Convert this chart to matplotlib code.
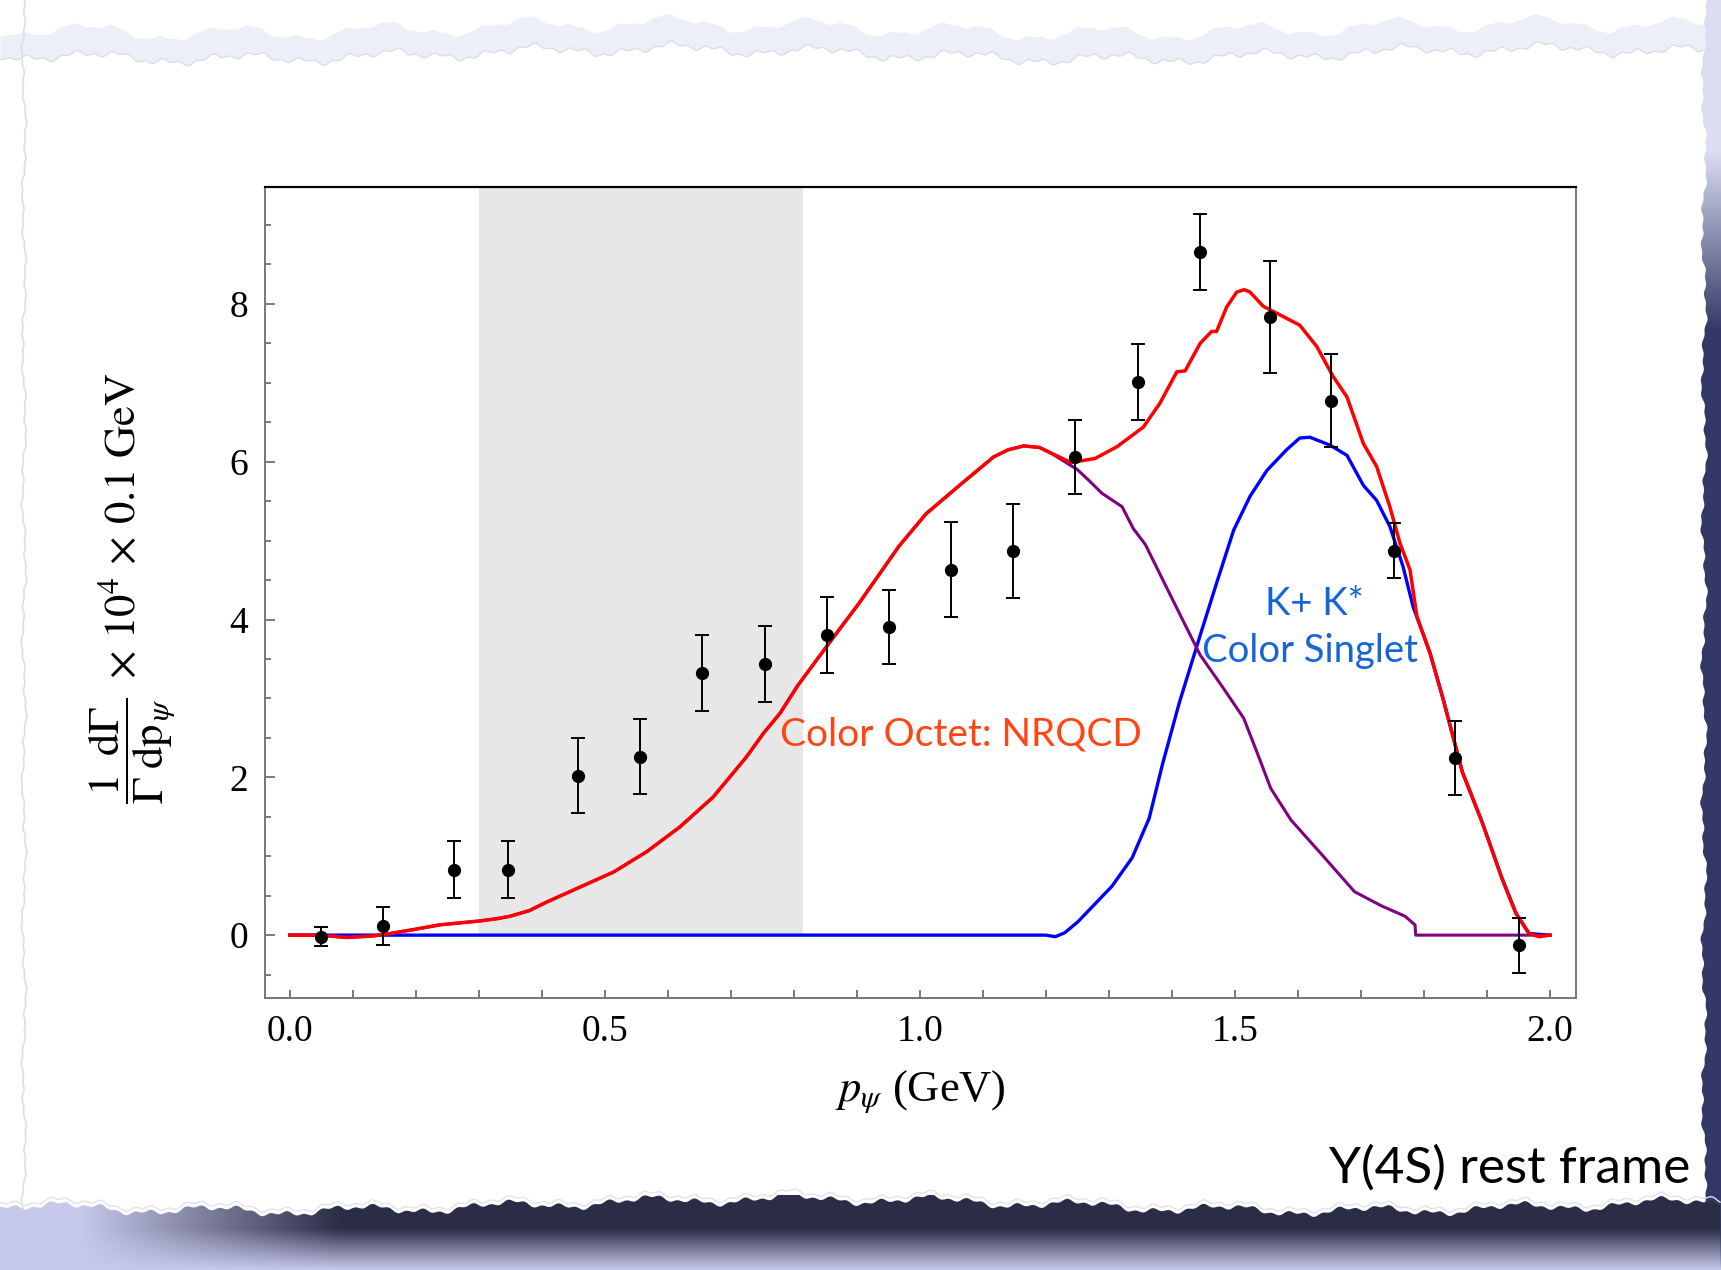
import numpy as np
import matplotlib.pyplot as plt
from matplotlib.ticker import MultipleLocator, FormatStrFormatter
from matplotlib.patches import Polygon

plt.rcParams['mathtext.fontset'] = 'stix'
plt.rcParams['font.family'] = ['Liberation Serif', 'DejaVu Serif']

# ---- data ----------------------------------------------------------------
p_data = [0.049, 0.148, 0.26, 0.347, 0.458, 0.556, 0.655, 0.754, 0.852, 0.951,
          1.049, 1.148, 1.247, 1.347, 1.444, 1.556, 1.653, 1.753, 1.85, 1.951]
rate_data = [-0.02, 0.12, 0.83, 0.83, 2.02, 2.26, 3.32, 3.44, 3.80, 3.91,
             4.63, 4.87, 6.06, 7.01, 8.66, 7.83, 6.77, 4.87, 2.25, -0.13]
rate_err = [0.12, 0.24, 0.36, 0.36, 0.475, 0.475, 0.48, 0.48, 0.48, 0.47,
            0.60, 0.60, 0.47, 0.48, 0.48, 0.71, 0.59, 0.35, 0.47, 0.35]

# total (octet + singlet), red
p_total = [0.0, 0.048, 0.09, 0.133, 0.159, 0.196, 0.238, 0.302, 0.33, 0.35, 0.38, 0.408,
           0.461, 0.514, 0.567, 0.619, 0.672, 0.725, 0.752, 0.778, 0.806, 0.855, 0.903,
           0.967, 1.010, 1.063, 1.117, 1.14, 1.165, 1.19, 1.208, 1.240, 1.278, 1.313, 1.355,
           1.381, 1.408, 1.421, 1.445, 1.463, 1.471, 1.487, 1.503, 1.515, 1.524,
           1.545, 1.567, 1.603, 1.630, 1.656, 1.678, 1.704, 1.725, 1.746, 1.762,
           1.778, 1.789, 1.810, 1.831, 1.861, 1.893, 1.924, 1.946, 1.967, 1.983, 2.0]
rate_total = [0.0, 0.0, -0.03, -0.01, 0.02, 0.07, 0.13, 0.18, 0.21, 0.24, 0.31, 0.42,
              0.61, 0.80, 1.06, 1.37, 1.75, 2.26, 2.56, 2.81, 3.16, 3.69, 4.20,
              4.93, 5.34, 5.70, 6.06, 6.15, 6.20, 6.18, 6.11, 5.99, 6.04, 6.19, 6.44,
              6.74, 7.14, 7.15, 7.50, 7.65, 7.65, 7.96, 8.15, 8.18, 8.15,
              7.97, 7.88, 7.73, 7.46, 7.08, 6.82, 6.23, 5.94, 5.43, 4.97,
              4.63, 4.04, 3.57, 2.98, 2.07, 1.42, 0.72, 0.28, 0.02, -0.02, 0.0]

# colour octet (NRQCD), purple
p_octet = [0.0, 0.048, 0.09, 0.133, 0.159, 0.196, 0.238, 0.302, 0.33, 0.35, 0.38, 0.408,
           0.461, 0.514, 0.567, 0.619, 0.672, 0.725, 0.752, 0.778, 0.806, 0.855, 0.903,
           0.967, 1.010, 1.063, 1.117, 1.14, 1.165, 1.19, 1.208, 1.25, 1.27, 1.289, 1.321,
           1.339, 1.358, 1.392, 1.42, 1.445, 1.48, 1.514, 1.536, 1.557, 1.589,
           1.637, 1.690, 1.733, 1.770, 1.786, 1.787, 2.0]
rate_octet = [0.0, 0.0, -0.03, -0.01, 0.02, 0.07, 0.13, 0.18, 0.21, 0.24, 0.31, 0.42,
              0.61, 0.80, 1.06, 1.37, 1.75, 2.26, 2.56, 2.81, 3.16, 3.69, 4.20,
              4.93, 5.34, 5.70, 6.06, 6.15, 6.20, 6.18, 6.11, 5.90, 5.75, 5.60, 5.43,
              5.15, 4.95, 4.40, 3.95, 3.55, 3.15, 2.75, 2.30, 1.86, 1.46,
              1.03, 0.55, 0.37, 0.24, 0.13, 0.0, 0.0]

# colour singlet (K + K*), blue
p_singlet = [0.0, 1.20, 1.215, 1.23, 1.251, 1.305, 1.337, 1.364, 1.385, 1.412,
             1.445, 1.471, 1.498, 1.524, 1.551, 1.582, 1.603, 1.619, 1.651, 1.678,
             1.704, 1.725, 1.746, 1.767, 1.783, 1.810, 1.831, 1.861, 1.893, 1.924,
             1.946, 1.967, 2.0]
rate_singlet = [0.0, 0.0, -0.02, 0.03, 0.17, 0.62, 0.98, 1.48, 2.16, 2.95,
                3.80, 4.46, 5.13, 5.56, 5.89, 6.15, 6.30, 6.31, 6.21, 6.08,
                5.70, 5.51, 5.18, 4.67, 4.16, 3.57, 2.98, 2.07, 1.42, 0.72,
                0.28, 0.02, 0.0]

band = [0.3, 0.815]

W, H = 1721, 1270
fig = plt.figure(figsize=(W / 100, H / 100), dpi=100, facecolor='white')

# ---- torn paper background (pixel coords, y down) ------------------------
bg = fig.add_axes([0, 0, 1, 1], zorder=-10)
bg.set_xlim(0, W)
bg.set_ylim(H, 0)
bg.axis('off')


def ragged(t, amp, ph):
    return amp * (0.5 * np.sin(t / 23.0 + ph) + 0.3 * np.sin(t / 7.3 + 2 * ph)
                  + 0.2 * np.sin(t / 2.7 + 3 * ph))


xs = np.arange(0, W + 1, 2.0)
ys = np.arange(0, H + 1, 2.0)

# top haze
top_edge = 54 + ragged(xs, 8, 0.4) + 5 * np.sin(xs / 140.0)
bg.fill_between(xs, top_edge - 26 + ragged(xs, 6, 1.3), top_edge,
                color='#eceef8', lw=0)
bg.plot(xs, top_edge, color='#d8dae4', lw=0.8)

# left edge
left_edge = 24 + ragged(ys, 3, 2.1)
bg.plot(left_edge, ys, color='#dcdee8', lw=1.2)

# right shadow
right_edge = 1704 + ragged(ys, 4, 0.9)
grad_r = np.zeros((H, 40, 4))
c0 = np.array([0.86, 0.87, 0.95])
c1 = np.array([0.20, 0.22, 0.40])
for i in range(H):
    t = np.clip((i - 150) / 180.0, 0, 1)
    grad_r[i, :, :3] = c0 * (1 - t) + c1 * t
    grad_r[i, :, 3] = 1
im_r = bg.imshow(grad_r, extent=[1681, W, H, 0], aspect='auto', zorder=1)
poly_r = Polygon(np.column_stack([np.r_[right_edge, W, W], np.r_[ys, H, 0]]),
                 closed=True, transform=bg.transData, facecolor='none', edgecolor='none')
bg.add_patch(poly_r)
im_r.set_clip_path(poly_r)

# bottom shadow
bottom_edge = 1205 + ragged(xs, 7, 1.7) + 6 * np.sin(xs / 170.0)
grad_b = np.zeros((70, W, 4))
dark = np.array([0.17, 0.18, 0.28])
light = np.array([0.78, 0.79, 0.92])
fade = np.clip((np.arange(W) - 80) / 260.0, 0, 1)
for j in range(70):
    s = np.clip((j / 69.0 - 0.45) / 0.55, 0, 1)
    col = dark * (1 - s) + light * s
    grad_b[j, :, :3] = light[None, :] * (1 - fade[:, None]) + col[None, :] * fade[:, None]
    grad_b[j, :, 3] = 1
im_b = bg.imshow(grad_b, extent=[0, W, H, 1195], aspect='auto', zorder=2)
poly_b = Polygon(np.column_stack([np.r_[xs, W, 0], np.r_[bottom_edge, H, H]]),
                 closed=True, transform=bg.transData, facecolor='none', edgecolor='none')
bg.add_patch(poly_b)
im_b.set_clip_path(poly_b)
bg.plot(xs, bottom_edge - 4, color='#e2e3ea', lw=1.0, zorder=3)

# ---- main plot ------------------------------------------------------------
ax = fig.add_axes([264.7 / W, 1 - 997.7 / H, (1576.2 - 264.7) / W, (997.7 - 186.7) / H])
ax.set_xlim(-0.0398, 2.0418)
ax.set_ylim(-0.793, 9.485)

ax.fill_between(band, 0, 9.485, color='#e7e7e7', lw=0, zorder=0)

ax.plot(p_singlet, rate_singlet, color='#0000ff', lw=2.4, zorder=2)
ax.plot(p_octet, rate_octet, color='#800080', lw=2.2, zorder=3)
ax.plot(p_total, rate_total, color='#ff0000', lw=2.5, zorder=4)
ax.errorbar(p_data, rate_data, yerr=rate_err, fmt='o', color='black', ms=8.5,
            capsize=5, elinewidth=1.4, capthick=1.4, zorder=5)

ax.xaxis.set_major_locator(MultipleLocator(0.5))
ax.xaxis.set_minor_locator(MultipleLocator(0.1))
ax.yaxis.set_major_locator(MultipleLocator(2))
ax.yaxis.set_minor_locator(MultipleLocator(0.5))
ax.xaxis.set_major_formatter(FormatStrFormatter('%.1f'))
ax.yaxis.set_major_formatter(FormatStrFormatter('%d'))
ax.tick_params(which='both', direction='in', top=False, right=False,
               color='#666666', width=1.2, labelsize=27, pad=12)
ax.tick_params(axis='y', which='major', length=7)
ax.tick_params(axis='y', which='minor', length=4.5)
ax.tick_params(axis='x', which='both', length=6)

for side in ['left', 'right', 'bottom']:
    ax.spines[side].set_color('#777777')
    ax.spines[side].set_linewidth(1.4)
ax.spines['top'].set_color('black')
ax.spines['top'].set_linewidth(1.6)

ax.set_xlabel(r'$p_{\psi}$ (GeV)', fontsize=32, labelpad=14)
fig.text(132 / W, 1 - 588 / H,
         r'$\dfrac{1\;\;\mathrm{d}\Gamma}{\Gamma\;\mathrm{dp}_{\,\psi}}\;\times\,10^{4}\,\times\,0.1\ \mathrm{GeV}$',
         rotation=90, ha='center', va='center', fontsize=32)

sans = ['Lato', 'DejaVu Sans']
ax.text(0.778, 2.54, 'Color Octet: NRQCD', color='#ff4513', fontsize=28,
        family=sans, ha='left', va='center')
ax.text(1.626, 4.20, 'K+ K*', color='#1565d8', fontsize=27.5, family=sans,
        ha='center', va='center')
ax.text(1.620, 3.60, 'Color Singlet', color='#1565d8', fontsize=27.5, family=sans,
        ha='center', va='center')

fig.text(1690 / W, 1 - 1183 / H, 'Υ(4S) rest frame', fontsize=37, family=sans,
         ha='right', va='baseline', color='black')

fig.savefig('out.png', dpi=100)
